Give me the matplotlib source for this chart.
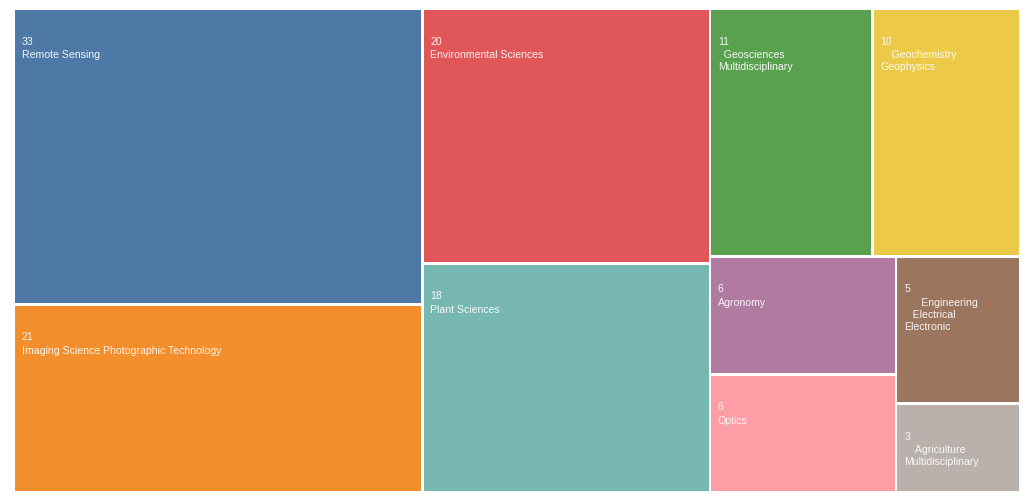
import matplotlib
matplotlib.use("Agg")
import matplotlib.pyplot as plt
import matplotlib.patches as patches

# data
names = ["Remote Sensing", "Imaging Science Photographic Technology",
         "Environmental Sciences", "Plant Sciences",
         "  Geosciences\nMultidisciplinary", "    Geochemistry\nGeophysics",
         "Agronomy", "Optics",
         "      Engineering\n   Electrical\nElectronic",
         "    Agriculture\nMultidisciplinary"]
values = [33, 21, 20, 18, 11, 10, 6, 6, 5, 3]
colors = ["#4e79a7", "#f28e2b", "#e15759", "#76b7b2", "#59a14f",
          "#edc948", "#b07aa1", "#ff9da7", "#9c755f", "#bab0ac"]

PHI = (1 + 5 ** 0.5) / 2


def squarify(vals, x0, y0, x1, y1, ratio=PHI):
    # same row logic as d3.treemapSquarify
    rects = [None] * len(vals)
    total = float(sum(vals))
    i0 = i1 = 0
    n = len(vals)
    while i0 < n:
        dx, dy = x1 - x0, y1 - y0
        s = vals[i1]; i1 += 1
        mn = mx = s
        alpha = max(dy / dx, dx / dy) / (total * ratio)
        beta = s * s * alpha
        best = max(mx / beta, beta / mn)
        while i1 < n:
            v = vals[i1]
            s += v
            mn = min(mn, v); mx = max(mx, v)
            beta = s * s * alpha
            r = max(mx / beta, beta / mn)
            if r > best:
                s -= v
                break
            best = r
            i1 += 1
        row = list(range(i0, i1))
        if dx < dy:
            ny = y0 + dy * s / total
            xx = x0
            for k in row:
                w = (x1 - x0) * vals[k] / s
                rects[k] = (xx, y0, xx + w, ny)
                xx += w
            y0 = ny
        else:
            nx = x0 + dx * s / total
            yy = y0
            for k in row:
                h = (y1 - y0) * vals[k] / s
                rects[k] = (x0, yy, nx, yy + h)
                yy += h
            x0 = nx
        total -= s
        i0 = i1
    return rects


fig = plt.figure(figsize=(10.24, 5.01), dpi=100)
ax = fig.add_axes([0, 0, 1, 1])
ax.set_xlim(0, 1024)
ax.set_ylim(501, 0)
ax.axis("off")

rects = squarify(values, 13.8, 8.8, 1020.2, 492.2)
pad = 1.3
for (a, b, c, d), v, nm, col in zip(rects, values, names, colors):
    ax.add_patch(patches.Rectangle((a + pad, b + pad), c - a - 2 * pad, d - b - 2 * pad,
                                   fc=col, ec="none"))
    ax.text(a + 8, b + 33, str(v), color="white", alpha=0.92, fontsize=7.6,
            family="Liberation Sans", va="center", ha="left")
    ax.text(a + 8, b + 41.5, nm, color="white", alpha=0.92, fontsize=7.6,
            family="Liberation Sans", va="top", ha="left", linespacing=1.25)

fig.savefig("out.png", dpi=100)
